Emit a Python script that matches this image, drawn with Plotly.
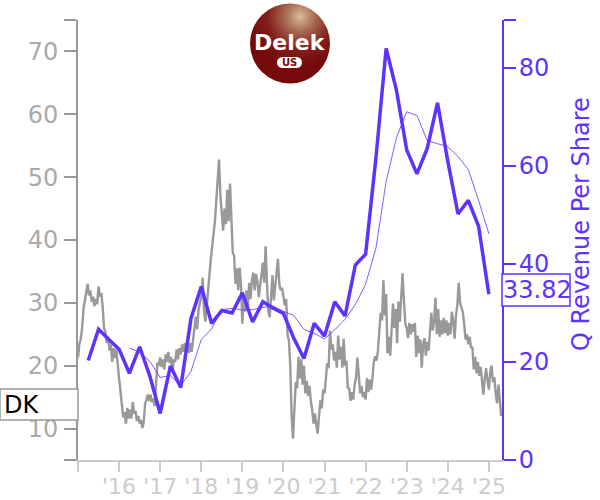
import base64
import plotly.graph_objects as go

WIDTH, HEIGHT = 600, 500
L, R, T, B = 78, 98, 20, 40
PURPLE = "#5e33ff"
GRAY = "#999999"

ticker = "DK"
latest_value = "33.82"
axis_title = "Q Revenue Per Share"

year_ticks = [2015, 2016, 2017, 2018, 2019, 2020, 2021, 2022, 2023, 2024, 2025]
year_labels = ["", "'16", "'17", "'18", "'19", "'20", "'21", "'22", "'23", "'24", "'25"]
price_ticks = [5, 10, 20, 30, 40, 50, 60, 70, 75]
price_labels = ["", "10", "20", "30", "40", "50", "60", "70", ""]
rev_ticks = [0, 20, 40, 60, 80, 89.8]
rev_labels = ["0", "20", "40", "60", "80", ""]

# Share price, about 30 readings per year
price = [
    21.3, 23.5, 24.2, 26, 29, 30.5, 31.2, 33, 31.2, 32, 30.2, 31, 29.5, 30.6, 29.8, 32.6, 31, 31.6, 29.5, 26, 25.4, 23.6, 24.6, 22.4, 23.4, 20.6, 22.8, 21.2, 22.6, 19.6,
    18, 16, 14.2, 11.8, 12.6, 10.8, 13.3, 11.6, 13, 11.6, 14.2, 12.4, 12.8, 11.2, 12, 10.8, 11.4, 10.1, 11, 14, 14.6, 15.4, 14.4, 15.4, 14.2, 14.8, 13.6, 17, 20.5, 20,
    21.3, 19.8, 21, 19.4, 21.8, 20.6, 22.2, 20.4, 21.4, 19, 21, 20.6, 22.6, 21, 22.8, 21.8, 23.4, 22.2, 23.6, 22.4, 23.4, 22, 23.6, 22.2, 24, 25.6, 27.8, 25.8, 28.8, 30,
    31, 34, 29, 27, 30, 32, 34.5, 37, 39, 41, 43, 46.3, 50, 52.8, 47, 44, 41.5, 45, 42.5, 48, 43, 49, 42, 38, 37.5, 33, 35.5, 32, 35.6, 33,
    26.7, 31, 28.6, 32, 29.4, 33.2, 30.6, 33.6, 34.8, 32, 34.6, 33.4, 30.9, 33, 35.4, 36.4, 33.2, 39, 33, 28.6, 27.7, 31, 34.4, 30.4, 32.4, 35, 37, 33, 32, 32.4,
    31, 29.6, 30.6, 25, 24, 20, 12, 8.4, 13, 17.4, 16.4, 21.4, 18, 21, 17, 20, 15.6, 17.6, 15.2, 16.8, 14.4, 13, 10.8, 12.4, 10.6, 9.2, 12, 14.5, 13.2, 16.2,
    15.6, 18, 20.4, 19.6, 25.6, 22.6, 23.4, 20.8, 22.2, 19.7, 24.8, 21, 23, 19.7, 24.3, 20, 20.8, 16.5, 16.4, 14.4, 15.8, 14.6, 17, 18, 21.3, 18.6, 15.6, 16.8, 15, 15.8,
    14.6, 18, 15.8, 17.8, 16.2, 18, 20.6, 21.5, 20.8, 22.4, 25.6, 28.4, 27.2, 33.6, 28, 31.4, 22, 24.6, 21.6, 26, 29.9, 26, 29, 23.6, 30.2, 27, 30.4, 34.7, 30.4, 26.7,
    26, 24.4, 26.8, 25, 26.6, 25.4, 26.8, 21.4, 24.8, 22, 24.2, 19.7, 23.4, 24.4, 21.6, 23.8, 22.4, 25.4, 28.4, 25.6, 27, 30.8, 25, 29, 24.6, 27.2, 25, 27.6, 25.2, 27.2,
    24.8, 26.8, 25, 28.6, 27, 24.3, 28, 29.6, 33.2, 30, 29.4, 28.5, 26.6, 24.2, 25, 23.4, 24.6, 22.8, 23, 19.4, 21.4, 18.8, 20.6, 18.4, 19.8, 17.8, 15.4, 18, 19.6, 17.6,
    16.2, 19, 20, 17.4, 18.2, 15.6, 14, 17, 14.4, 12,
]
price_years = [2015 + i / 30 for i in range(len(price))]

quarter_years = [2015.25 + i * 0.25 for i in range(40)]
revenue = [
    20.3, 26.7, 24.6, 22.6, 17.7, 23.1, 17.1, 9.5, 19.2, 14.8,
    28.9, 35.4, 27.9, 30.5, 30.0, 34.1, 28.2, 32.3, 31.0, 29.9,
    24.9, 20.7, 27.9, 25.3, 32.3, 29.4, 39.8, 42.0, 61.5, 84.0,
    75.5, 63.3, 58.4, 63.6, 72.9, 61.0, 50.2, 53.0, 47.7, 33.82,
]
avg_years = quarter_years[4:]
revenue_avg = [
    22.85, 21.98, 20.13, 16.85, 17.23, 15.15, 18.1, 24.58, 26.75, 30.68,
    30.95, 30.63, 30.7, 31.15, 31.4, 30.35, 29.53, 26.63, 25.85, 24.7,
    26.55, 28.73, 31.7, 35.88, 43.18, 56.83, 65.75, 71.08, 70.3, 65.2,
    64.55, 63.98, 61.93, 59.28, 52.98, 46.18,
]


def px_x(x):
    return (x - L) / (WIDTH - L - R)


def px_y(y):
    return 1 - (y - T) / (HEIGHT - T - B)


def box(x0, y0, x1, y1, color):
    return dict(type="rect", xref="paper", yref="paper",
                x0=px_x(x0), x1=px_x(x1), y0=px_y(y1), y1=px_y(y0),
                line=dict(color=color, width=1.5), fillcolor="white", layer="above")


logo_svg = """<svg xmlns="http://www.w3.org/2000/svg" width="84" height="84" viewBox="0 0 84 84">
<defs><radialGradient id="g" gradientUnits="userSpaceOnUse" cx="52" cy="15" r="50">
<stop offset="0" stop-color="#d8bc9c"/><stop offset="0.3" stop-color="#a86a50"/>
<stop offset="0.65" stop-color="#82201c"/><stop offset="1" stop-color="#760a0a"/>
</radialGradient></defs>
<circle cx="42" cy="42" r="40" fill="url(#g)"/>
<rect x="29" y="55.5" width="25" height="11" rx="5.5" fill="white"/>
</svg>"""
logo_uri = "data:image/svg+xml;base64," + base64.b64encode(logo_svg.encode()).decode()

fig = go.Figure()
fig.add_trace(go.Scatter(x=price_years, y=price, mode="lines", yaxis="y",
                         line=dict(color=GRAY, width=2.4), hoverinfo="skip"))
fig.add_trace(go.Scatter(x=avg_years, y=revenue_avg, mode="lines", yaxis="y2",
                         line=dict(color=PURPLE, width=0.8), hoverinfo="skip"))
fig.add_trace(go.Scatter(x=quarter_years, y=revenue, mode="lines", yaxis="y2",
                         line=dict(color=PURPLE, width=3.5), hoverinfo="skip"))

font = "DejaVu Sans"
fig.update_layout(
    width=WIDTH, height=HEIGHT, autosize=False, showlegend=False,
    margin=dict(l=L, r=R, t=T, b=B, pad=0, autoexpand=False),
    paper_bgcolor="white", plot_bgcolor="white",
    xaxis=dict(range=[2015, 2025.32], tickmode="array", tickvals=year_ticks, ticktext=year_labels,
               automargin=False,
               tickangle=0, ticks="outside", ticklen=10, tickwidth=2, tickcolor="#cccccc",
               ticklabelstandoff=-4,
               showline=True, linecolor="#cccccc", linewidth=2, showgrid=False, zeroline=False,
               tickfont=dict(family=font, size=22, color="#cccccc")),
    yaxis=dict(range=[5, 75], tickmode="array", tickvals=price_ticks, ticktext=price_labels,
               automargin=False,
               ticks="outside", ticklen=12, tickwidth=2, tickcolor=GRAY, ticklabelstandoff=1,
               showline=True, linecolor=GRAY, linewidth=2, showgrid=False, zeroline=False,
               tickfont=dict(family=font, size=24, color="#aaaaaa")),
    yaxis2=dict(range=[0, 89.8], overlaying="y", side="right", tickmode="array",
                tickvals=rev_ticks, ticktext=rev_labels,
                automargin=False,
                ticks="outside", ticklen=12, tickwidth=2, tickcolor=PURPLE, ticklabelstandoff=-2,
                showline=True, linecolor=PURPLE, linewidth=2, showgrid=False, zeroline=False,
                tickfont=dict(family=font, size=24, color=PURPLE)),
    shapes=[box(0, 389, 78, 420, GRAY), box(502, 274, 570, 306, PURPLE)],
    images=[dict(source=logo_uri, xref="paper", yref="paper", x=px_x(248), y=px_y(1.5),
                 sizex=84 / (WIDTH - L - R), sizey=84 / (HEIGHT - T - B),
                 xanchor="left", yanchor="top", layer="above", sizing="stretch")],
    annotations=[
        dict(text=axis_title, xref="paper", yref="paper", x=px_x(581), y=px_y(224), xanchor="center", yanchor="middle",
             textangle=-90, showarrow=False, font=dict(family=font, size=24, color=PURPLE)),
        dict(text=ticker, xref="paper", yref="paper", x=px_x(2), y=px_y(404.5), xanchor="left", yanchor="middle",
             showarrow=False, font=dict(family=font, size=24, color="black")),
        dict(text=latest_value, xref="paper", yref="paper", x=px_x(537), y=px_y(290), xanchor="center", yanchor="middle",
             showarrow=False, font=dict(family=font, size=24, color=PURPLE)),
        dict(text="<b>Delek</b>", xref="paper", yref="paper", x=px_x(290), y=px_y(42.5), xanchor="center", yanchor="middle",
             showarrow=False, font=dict(family=font, size=22, color="white")),
        dict(text="<b>US</b>", xref="paper", yref="paper", x=px_x(289.5), y=px_y(62.5), xanchor="center", yanchor="middle",
             showarrow=False, font=dict(family=font, size=10, color="#760a0a")),
    ],
)

fig.write_html("out.html", config={"displayModeBar": False},
               post_script="document.body.style.margin='0';document.body.style.overflow='hidden';")
